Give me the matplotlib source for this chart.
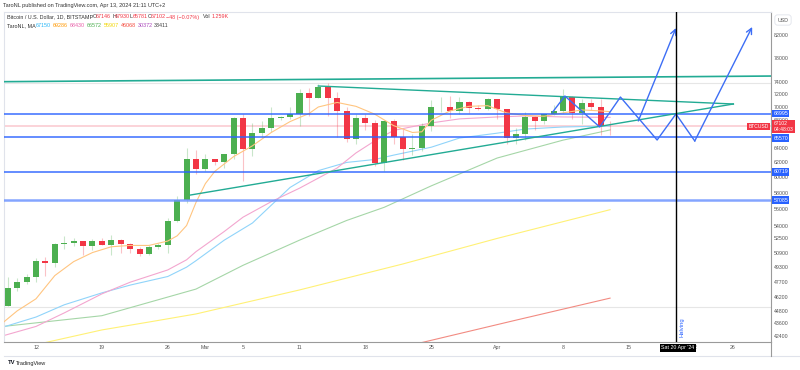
import numpy as np
import pandas as pd
import matplotlib
matplotlib.use("Agg")
import matplotlib.pyplot as plt

plt.rcParams['font.family'] = ['Liberation Sans', 'DejaVu Sans']

# daily candles, BITSTAMP BTCUSD
dates = pd.date_range("2024-02-09", "2024-04-13")
opens = [45290, 47130, 47770, 48300, 49950, 49720, 51830, 51930, 52150, 51650, 52150, 51780, 52270,
         51850, 51320, 50750, 51570, 51730, 54500, 57050, 62500, 61170, 62400, 62050, 63150, 68300,
         63800, 66100, 66900, 68300, 68500, 68950, 72100, 71450, 73100, 71400, 69450, 65300, 68400,
         67600, 61900, 67850, 65500, 63800, 64050, 67200, 69950, 70000, 69450, 70750, 69900, 69650,
         71300, 69650, 65450, 65950, 68500, 67850, 68900, 69350, 71600, 69150, 70630, 70010, 67146]
highs = [48200, 48170, 48570, 50350, 50400, 52000, 52800, 52600, 52200, 52400, 52500, 52950, 52400,
         52000, 51530, 51700, 51980, 54900, 57550, 64000, 63680, 63150, 62450, 63200, 68500, 69000,
         67600, 67950, 69950, 68600, 69950, 72800, 73000, 73650, 73780, 72400, 70000, 68900, 68950,
         68100, 68100, 68200, 66650, 65950, 67600, 71150, 71550, 71700, 71550, 70900, 70300, 71350,
         71300, 69700, 66900, 69300, 68700, 69000, 70300, 72750, 71750, 71200, 71300, 71250, 67930]
lows = [45250, 46800, 47500, 47700, 48350, 49300, 51300, 51600, 50600, 51200, 51700, 50650, 50800,
        50900, 50550, 50600, 51300, 50900, 54450, 56700, 60400, 60800, 61650, 61300, 62400, 59500,
        62900, 65600, 66200, 68100, 68150, 67200, 68600, 71350, 68600, 65600, 64800, 64600, 66500,
        61500, 60800, 64600, 62300, 63000, 63600, 66400, 69300, 68400, 68900, 69100, 69600, 69600,
        68200, 64500, 64500, 65100, 66600, 67450, 68800, 69100, 68200, 67500, 69600, 65800, 65781]
closes = [47130, 47770, 48300, 49950, 49720, 51830, 51930, 52150, 51650, 52150, 51780, 52270, 51850,
          51320, 50750, 51570, 51730, 54500, 57050, 62500, 61170, 62400, 62050, 63150, 68300, 63800,
          66100, 66900, 68300, 68500, 68950, 72100, 71450, 73100, 71400, 69450, 65300, 68400, 67600,
          61900, 67850, 65500, 63800, 64050, 67200, 69950, 70000, 69450, 70750, 69900, 69650, 71300,
          69650, 65450, 65950, 68500, 67850, 68900, 69350, 71600, 69150, 70630, 70010, 67146, 67102]

# moving averages (days counted from 12 Feb)
ma_orange_days = [-4, -2, 0, 2, 4, 6, 8, 10, 12, 14, 15, 16, 17, 18, 19, 21, 23, 25, 27, 29, 30, 32,
                  34, 35, 36, 38, 40, 41, 42, 44, 46, 48, 50, 52, 54, 56, 58, 60, 61]
ma_orange = [43300, 44800, 46000, 48400, 49900, 50900, 51550, 51700, 51700, 52200, 52800, 54000, 56800,
             59200, 60800, 62800, 64300, 66200, 67800, 69000, 70000, 70700, 70100, 69500, 68900, 67200,
             66200, 66300, 68000, 69400, 70100, 70200, 69100, 68700, 68600, 69100, 69550, 69400, 69286]
ma_pink_days = [-4, 0, 3, 7, 10, 14, 16, 17, 20, 22, 25, 28, 32, 34, 36, 38, 42, 45, 49, 52, 56, 61]
ma_pink = [42300, 43300, 44600, 46500, 47700, 49000, 50100, 51000, 53300, 55000, 56900, 58600, 61250,
           63300, 65000, 66500, 67600, 68200, 68490, 68640, 68490, 68430]
ma_blue_days = [-4, 0, 3, 7, 10, 14, 16, 17, 20, 23, 27, 30, 33, 36, 38, 42, 45, 49, 52, 56, 61]
ma_blue = [43100, 44200, 45400, 46600, 47400, 48300, 49300, 50000, 52300, 54300, 58700, 60900, 62000,
           62400, 63000, 64100, 65400, 66100, 66700, 67000, 67150]
ma_green_days = [-4, 7, 17, 22, 28, 33, 37, 42, 49, 56, 61]
ma_green = [43250, 44330, 46990, 49500, 52300, 54600, 56200, 58900, 62600, 65100, 66572]
ma_yellow_days = [1, 7, 12, 17, 28, 39, 49, 61]
ma_yellow = [41800, 42970, 43720, 44500, 46900, 49650, 52500, 55907]
ma_red_days = [41, 51, 61]
ma_red = [41800, 43900, 46068]

legend_ma_values = ["67150", "69286", "68430", "66572", "55907", "46068", "30372", "33411"]
legend_ma_colors = ["#29b6f6", "#ff9800", "#e85fa8", "#4caf50", "#f2d600", "#f44336", "#ab47bc", "#444444"]

# drawings
levels = [68995, 65570, 60719, 57085]
last_price = 67102
resistance_days = [-4, 78.5]
resistance = [73980, 74910]
wedge_top_days = [30, 74.1]
wedge_top = [73290, 70460]
wedge_low_days = [16.4, 74.1]
wedge_low = [57730, 70460]
path_a_days = [54.9, 56.2, 59.9, 62.1, 66.0, 68.0, 70.0, 76.1]
path_a = [69230, 71700, 67000, 71540, 65120, 68940, 64980, 83400]
path_b_days = [64.0, 68.0]
path_b = [67890, 83210]
halving_day = 68

tick_days = [0, 7, 14, 18, 22, 28, 35, 42, 49, 56, 63, 70, 74]
tick_labels = ["12", "19", "26", "Mar", "5", "11", "18", "25", "Apr", "8", "15", "22", "26"]
price_ticks = [82000, 78000, 74000, 72000, 70000, 68000, 64000, 62000, 60000, 58000, 56000, 54000,
               52500, 50900, 49300, 47700, 46200, 44800, 43600, 42400]

W, H = 800, 370
fig = plt.figure(figsize=(8, 3.7), dpi=100)
ax = fig.add_axes([4 / W, 28 / H, 767 / W, 330 / H])

x = (dates - pd.Timestamp("2024-02-12")).days.values
o = np.array(opens, float)
c = np.array(closes, float)
up = c >= o
cols = np.where(up, "#4caf50", "#f23645")
ax.vlines(x, lows, highs, colors=cols, lw=0.8, alpha=0.3, zorder=3)
bot = np.minimum(o, c)
hgt = np.maximum(np.abs(c - o), 40)
ax.bar(x, hgt, bottom=bot, width=0.64, color=cols, zorder=4, linewidth=0)

ax.plot(ma_red_days, ma_red, color="#f28b82", lw=0.8, zorder=2)
ax.plot(ma_yellow_days, ma_yellow, color="#fff176", lw=0.8, zorder=2)
ax.plot(ma_green_days, ma_green, color="#a5d6a7", lw=0.8, zorder=2)
ax.plot(ma_blue_days, ma_blue, color="#90d4fa", lw=0.8, zorder=2)
ax.plot(ma_pink_days, ma_pink, color="#f3a6cf", lw=0.8, zorder=2)
ax.plot(ma_orange_days, ma_orange, color="#ffc580", lw=0.8, zorder=5)

# faint frame lines
for p in [73770, 45230]:
    ax.axhline(p, color="#e6e6e6", lw=0.8, zorder=1)
ax.axhline(last_price, color="#fbd0d5", lw=1.3, zorder=1)
for p, lw, col in zip(levels, [1.2, 1.2, 1.2, 1.8], ["#2962ff", "#2962ff", "#2962ff", "#6f95ff"]):
    ax.axhline(p, color=col, lw=lw, alpha=0.85, zorder=6)

tc = "#22ab94"
ax.plot(resistance_days, resistance, color=tc, lw=1.2, zorder=6)
ax.plot(wedge_top_days, wedge_top, color=tc, lw=1.0, zorder=6)
ax.plot(wedge_low_days, wedge_low, color=tc, lw=1.0, zorder=6)

bc = "#3d6ef5"
ax.plot(path_a_days[:-1], path_a[:-1], color=bc, lw=1.0, zorder=7)
ax.annotate("", xy=(path_a_days[-1], path_a[-1]), xytext=(path_a_days[-2], path_a[-2]),
            arrowprops=dict(arrowstyle="->", color=bc, lw=1.0, shrinkA=0, shrinkB=0), zorder=7)
ax.annotate("", xy=(path_b_days[-1], path_b[-1]), xytext=(path_b_days[0], path_b[0]),
            arrowprops=dict(arrowstyle="->", color=bc, lw=1.0, shrinkA=0, shrinkB=0), zorder=7)

ax.axvline(halving_day, color="black", lw=1.0, zorder=8)
ax.text(halving_day + 0.35, 42300, "Halving", rotation=90, color="#2962ff", fontsize=4.2,
        va="bottom", ha="left", zorder=8)

ax.set_yscale("log")
ax.set_ylim(41850, 86177)
ax.set_xlim(-3.4, 78.1)
ax.yaxis.tick_right()
ax.set_yticks(price_ticks)
ax.set_yticklabels([str(p) for p in price_ticks])
ax.minorticks_off()
ax.tick_params(axis="y", length=0, pad=2, labelsize=3.8, labelcolor="#555555")
ax.set_xticks(tick_days)
ax.set_xticklabels(tick_labels)
ax.tick_params(axis="x", length=0, pad=2.5, labelsize=3.8, labelcolor="#555555")
for s in ["left", "top"]:
    ax.spines[s].set_color("#e0e3eb")
    ax.spines[s].set_linewidth(0.8)
for s in ["right", "bottom"]:
    ax.spines[s].set_color("#9a9a9a")
    ax.spines[s].set_linewidth(0.8)

# price labels on the axis
ytr = ax.get_yaxis_transform()
label_txt = ["68995", "65570", "60719", "57085"]
label_y = [68995, 65400, 60719, 57085]
for t, p in zip(label_txt, label_y):
    ax.text(1.003, p, t, transform=ytr, fontsize=3.8, color="white", va="center", ha="left",
            bbox=dict(boxstyle="square,pad=0.25", fc="#2962ff", ec="none"), zorder=10, clip_on=False)
ax.text(1.003, last_price, "67102\n04:48:03", transform=ytr, fontsize=3.6, color="white",
        va="center", ha="left", linespacing=1.1,
        bbox=dict(boxstyle="square,pad=0.3", fc="#f23645", ec="none"), zorder=11, clip_on=False)
ax.text(0.997, last_price, "BTCUSD", transform=ytr, fontsize=3.6, color="white", va="center",
        ha="right", bbox=dict(boxstyle="square,pad=0.25", fc="#f23645", ec="none"), zorder=11)

fig.text(783 / W, 1 - 20 / H, "USD", fontsize=3.8, color="#555555", ha="center", va="center",
         bbox=dict(boxstyle="round,pad=0.5", fc="white", ec="#e0e3eb", lw=0.6))
fig.text(678 / W, 1 - 348 / H, "Sat 20 Apr '24", fontsize=3.8, color="white", ha="center",
         va="center", bbox=dict(boxstyle="square,pad=0.35", fc="black", ec="none"))

# header texts
fig.text(3 / W, 1 - 6 / H, "TaroNL published on TradingView.com, Apr 13, 2024 21:11 UTC+2",
         fontsize=4.0, color="#333333", va="center")
y1 = 1 - 17 / H
fig.text(7 / W, y1, "Bitcoin / U.S. Dollar, 1D, BITSTAMP", fontsize=3.9, color="#333333", va="center")
ohlc = [("O", "67146", 93), ("H", "67930", 112), ("L", "65781", 130), ("C", "67102", 148)]
for k, v, px in ohlc:
    fig.text(px / W, y1, k, fontsize=3.9, color="#333333", va="center")
    fig.text((px + 2.8) / W, y1, v, fontsize=3.9, color="#f23645", va="center")
fig.text(166 / W, y1, "\u221248 (\u22120.07%)", fontsize=3.9, color="#f23645", va="center")
fig.text(203 / W, y1, "Vol", fontsize=3.9, color="#333333", va="center")
fig.text(212 / W, y1, "1.259K", fontsize=3.9, color="#f23645", va="center")
y2 = 1 - 25.5 / H
fig.text(7 / W, y2, "TaroNL, MA", fontsize=3.9, color="#333333", va="center")
for i, (v, col) in enumerate(zip(legend_ma_values, legend_ma_colors)):
    fig.text((36 + 16.9 * i) / W, y2, v, fontsize=3.9, color=col, va="center")

# bottom frame and logo
fig.add_artist(plt.Line2D([4 / W, 1], [1 - 356 / H, 1 - 356 / H], color="#e0e3eb", lw=0.8))
fig.add_artist(plt.Line2D([771 / W, 771 / W], [1 - 356 / H, 1 - 342 / H], color="#9a9a9a", lw=0.8))
fig.text(8 / W, 1 - 363 / H, "TV", fontsize=4.2, color="#131722", va="center", fontweight="bold")
fig.text(16 / W, 1 - 363 / H, "TradingView", fontsize=4.0, color="#222222", va="center")

fig.savefig("out.png", dpi=100)
